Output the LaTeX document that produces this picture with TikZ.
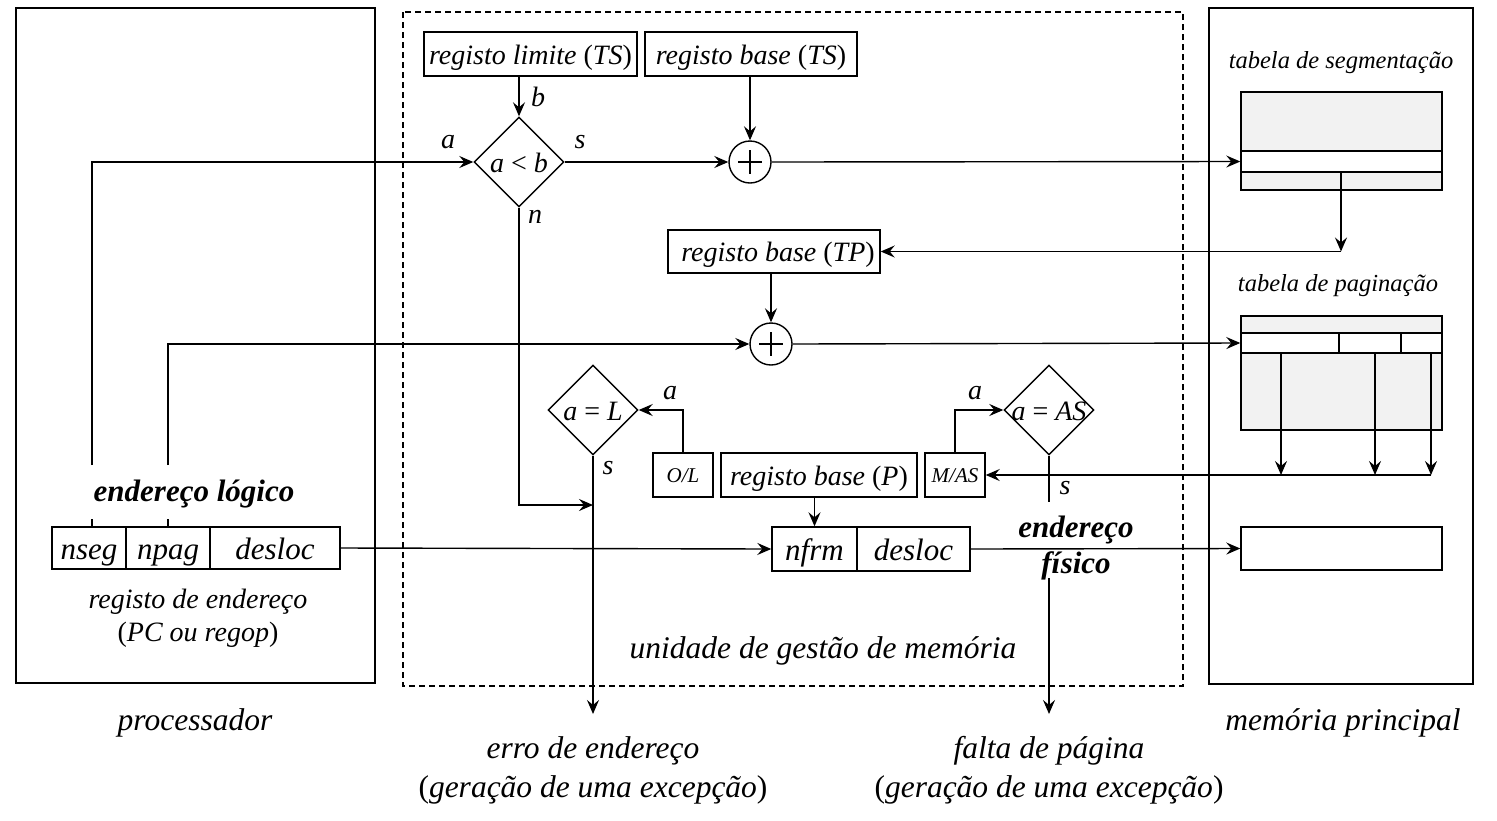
\documentclass[tikz,border=0pt]{standalone}
\usepackage{fontspec}
\setmainfont{Liberation Serif}
\usetikzlibrary{arrows.meta,shapes.geometric}
\newcommand{\fsz}[2]{\fontsize{#1}{#2}\selectfont}
\begin{document}
\begin{tikzpicture}[x=1pt,y=-1pt,line width=1.4pt,
  font=\fsz{28}{33}\itshape,
  arr/.style={-{Stealth[length=14pt,width=12pt,inset=5pt]}},
  box/.style={draw,inner sep=0pt,minimum height=44pt,text height=20pt,text depth=0pt},
  field/.style={box,font=\fsz{31}{36}\itshape,text height=22pt},
  frame/.style={draw,line width=1.5pt},
  cmpbox/.style={draw,diamond,aspect=1,inner sep=0pt,minimum width=90pt,minimum height=90pt,text height=20pt,text depth=0pt},
  addbox/.style={draw,circle,inner sep=0pt,minimum size=42pt},
  tab/.style={draw,fill=black!5,inner sep=0pt},
  row/.style={draw,fill=white,inner sep=0pt},
  lbl/.style={inner sep=0pt},
  small/.style={font=\fsz{21}{25}\itshape,text height=15pt},
  big/.style={font=\fsz{31.5}{39}\itshape},
  tlbl/.style={font=\fsz{24.5}{29}\itshape},
  bold/.style={font=\fsz{31}{36}\bfseries\itshape}]
\useasboundingbox (0,0) rectangle (1497,820);
% outer frames
\draw[frame] (16,8) rectangle (375,683);
\draw[frame,line width=1.3pt,dash pattern=on 6pt off 4pt] (403,12) rectangle (1183,686);
\draw[frame] (1209,8) rectangle (1473,684);
\node[big] (proc) at (195,723) {processador};
\node[big] (mmu) at (823,651) {unidade de gestão de memória};
\node[big] (mem) at (1343,723) {memória principal};
% top registers
\node[box,minimum width=213pt] (rlim) at (530.5,54) {registo limite \textup{(}TS\textup{)}};
\node[box,minimum width=212pt] (rbts) at (751,54) {registo base \textup{(}TS\textup{)}};
\node[cmpbox] (cmp) at (519,162) {\makebox[0pt]{a \textup{<} b}};
\node[addbox] (p1) at (750,162) {};
\draw[line width=1.2pt] (p1.center) ++(-12,0) -- ++(24,0);
\draw[line width=1.2pt] (p1.center) ++(0,-12) -- ++(0,24);
\node[lbl] at (538,97) {b};
\node[lbl] at (448,142) {a};
\node[lbl] at (580,142) {s};
\node[lbl] at (535,217) {n};
% segment table
\node[tlbl] (tseg) at (1341,63) {tabela de segmentação};
\node[tab,minimum width=201pt,minimum height=98pt] (segtab) at (1341.5,141) {};
\node[row,minimum width=201pt,minimum height=21pt] (segrow) at (1341.5,161.5) {};
% TP register
\node[box,minimum width=212pt,minimum height=43pt] (rbtp) at (774,251.5) {\hspace*{8pt}registo base \textup{(}TP\textup{)}};
\node[addbox] (p2) at (771,344) {};
\draw[line width=1.2pt] (p2.center) ++(-12,0) -- ++(24,0);
\draw[line width=1.2pt] (p2.center) ++(0,-12) -- ++(0,24);
% page table
\node[tlbl] (tpag) at (1338,286) {tabela de paginação};
\node[tab,minimum width=201pt,minimum height=114pt] (pagtab) at (1341.5,373) {};
\node[row,minimum width=201pt,minimum height=20pt] (pagrow) at (1341.5,343) {};
\draw[line width=1.4pt] (1339,333) -- (1339,353) (1401,333) -- (1401,353);
% comparators lower
\node[cmpbox] (eqL) at (593,410) {\makebox[0pt]{a \textup{=} L}};
\node[cmpbox] (eqAS) at (1049,410) {\makebox[0pt]{a \textup{=} AS}};
\node[box,small,minimum width=60pt] (ol) at (683,475) {O/L};
\node[box,minimum width=196pt] (rbp) at (819,475) {registo base \textup{(}P\textup{)}};
\node[box,small,minimum width=60pt] (mas) at (955,475) {M/AS};
\node[lbl] at (670,393) {a};
\node[lbl] at (975,393) {a};
\node[lbl] at (608,468) {s};
\node[lbl] at (1065,488) {s};
% physical address
\node[field,minimum width=85pt] (nfrm) at (814.5,549) {nfrm};
\node[field,minimum width=113pt] (fdes) at (913.5,549) {desloc};
\node[bold,align=center] (efis) at (1076,548) {endereço\\fí\kern0.5pt sico};
\node[draw,inner sep=0pt,minimum width=201pt,minimum height=43pt] (mfr) at (1341.5,548.5) {};
% logical address register
\node[bold] (elog) at (194,494) {endereço lógico};
\node[field,minimum width=74pt,minimum height=42pt] (nseg) at (89,548) {nseg};
\node[field,minimum width=84pt,minimum height=42pt] (npag) at (168,548) {npag};
\node[field,minimum width=130pt,minimum height=42pt] (desl) at (275,548) {desloc};
\node[align=center] (regend) at (198,618) {registo de endereço\\\textup{(}PC ou regop\textup{)}};
% exceptions
\node[big,align=center] (erro) at (593,770) {erro de endereço\\\textup{(}geração de uma excepção\textup{)}};
\node[big,align=center] (falta) at (1049,770) {falta de página\\\textup{(}geração de uma excepção\textup{)}};
% coordinates
\coordinate (l1) at (92,465);
\coordinate (l2) at (168,465);
\coordinate (corner) at (1341,251.5);
\coordinate (q1) at (1281,475);
\coordinate (q2) at (1375,475);
\coordinate (q3) at (1431,475);
\coordinate (nj) at (593,505);
\coordinate (ase) at (1049,502);
\coordinate (asb) at (1049,578);
\coordinate (e1) at (593,714);
\coordinate (e2) at (1049,714);
% connectors
\draw[arr] (rlim.south -| cmp.north) -- (cmp.north);
\draw[arr] (rbts.south -| p1.north) -- (p1.north);
\draw[arr] (l1) |- (cmp.west);
\draw[arr] (cmp.east) -- (p1.west);
\draw[arr] (p1.east) -- (segrow.west);
\draw[arr] (segrow.south -| corner) -- (corner);
\draw[arr] (corner) -- (rbtp.east);
\draw[arr] (rbtp.south -| p2.north) -- (p2.north);
\draw[arr] (l2) |- (p2.west);
\draw[arr] (p2.east) -- (pagrow.west);
\draw[arr] (pagrow.south -| q1) -- (q1);
\draw[arr] (pagrow.south -| q2) -- (q2);
\draw[arr] (pagrow.south -| q3) -- (q3);
\draw[arr] (q3) -- (mas.east);
\draw[arr] (ol.north) |- (eqL.east);
\draw[arr] (mas.north) |- (eqAS.west);
\draw[arr] (eqL.south) -- (e1);
\draw[arr] (cmp.south) |- (nj);
\draw (eqAS.south) -- (ase);
\draw[arr] (asb) -- (e2);
\draw[arr] (rbp.south -| nfrm.north) -- (nfrm.north);
\draw[arr] (desl.east) -- (nfrm.west);
\draw[arr] (fdes.east) -- (mfr.west);
\draw (nseg.north -| l1) -- ++(0,-7);
\draw (npag.north -| l2) -- ++(0,-7);
\end{tikzpicture}
\end{document}
